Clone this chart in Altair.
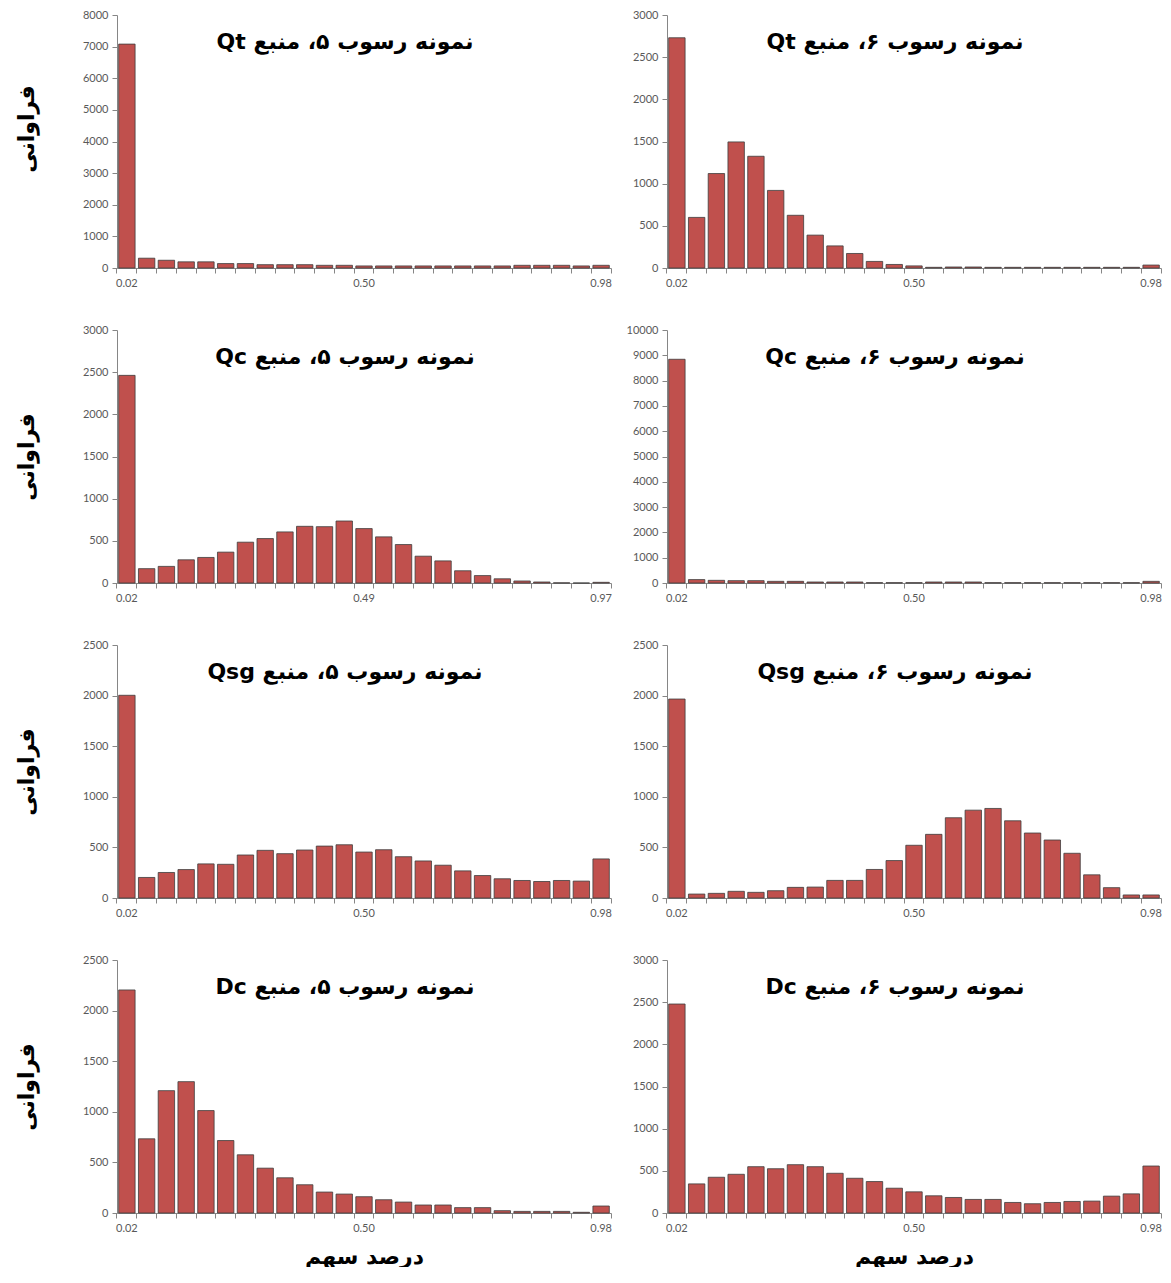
import altair as alt
import pandas as pd

# ---------------- data ----------------
bin_index = list(range(25))

qt5 = [7080, 310, 245, 195, 195, 140, 140, 105, 105, 105, 85, 85, 65, 65, 65, 65, 65, 65, 65, 65, 85, 85, 85, 65, 85]
qt6 = [2730, 600, 1120, 1495, 1325, 920, 625, 390, 262, 172, 78, 42, 25, 8, 12, 12, 8, 8, 8, 8, 8, 8, 8, 8, 35]
qc5 = [2462, 170, 197, 275, 303, 366, 484, 527, 606, 672, 668, 735, 645, 547, 456, 318, 262, 145, 88, 50, 24, 12, 2, 0, 8]
qc6 = [8843, 135, 105, 92, 92, 66, 66, 40, 40, 40, 12, 12, 12, 40, 40, 40, 12, 12, 12, 12, 12, 12, 12, 12, 66]
qsg5 = [2003, 203, 252, 281, 337, 333, 425, 471, 438, 474, 513, 526, 454, 477, 408, 366, 324, 268, 222, 190, 173, 163, 173, 167, 386]
qsg6 = [1966, 39, 46, 66, 56, 72, 105, 108, 174, 174, 282, 370, 521, 629, 793, 868, 885, 763, 642, 573, 442, 229, 102, 30, 30]
dc5 = [2204, 733, 1209, 1298, 1012, 716, 575, 443, 348, 279, 207, 187, 161, 131, 108, 79, 79, 53, 53, 23, 16, 16, 16, 7, 69]
dc6 = [2478, 345, 424, 459, 549, 525, 573, 549, 471, 412, 373, 294, 251, 204, 184, 161, 161, 125, 110, 125, 137, 141, 200, 227, 557]

labels_default = ["0.02", "0.50", "0.98"]
labels_qc5 = ["0.02", "0.49", "0.97"]
label_positions = [0, 12, 24]

titles = [
    "نمونه رسوب ۵، منبع Qt", "نمونه رسوب ۶، منبع Qt",
    "نمونه رسوب ۵، منبع Qc", "نمونه رسوب ۶، منبع Qc",
    "نمونه رسوب ۵، منبع Qsg", "نمونه رسوب ۶، منبع Qsg",
    "نمونه رسوب ۵، منبع Dc", "نمونه رسوب ۶، منبع Dc",
]
y_title = "فراوانی"
x_title = "درصد سهم"

# ---------------- style ----------------
W, H = 494, 253
FILL = "#C0504D"
STROKE = "#3d3d3d"
AXIS_COLOR = "#868686"
LABEL_COLOR = "#595959"
LABEL_FONT = "Lato"
AR_FONT = "DejaVu Sans"


def panel(values, ymax, ystep, xlabels, title, left, bottom, ytitle_shift=0):
    df = pd.DataFrame({"idx": bin_index, "count": values})
    expr = " : ".join(
        f"datum.value == {p} ? '{l}'" for p, l in zip(label_positions, xlabels)
    ) + " : ''"
    x_axis = alt.Axis(
        title=x_title if bottom else None,
        labelExpr=expr,
        labelAngle=0,
        labelOverlap=False,
        labelFont=LABEL_FONT,
        labelFontSize=11,
        labelColor=LABEL_COLOR,
        labelPadding=4,
        bandPosition=1,
        tickExtra=True,
        tickSize=5,
        tickColor=AXIS_COLOR,
        domainColor=AXIS_COLOR,
        titleFont=AR_FONT,
        titleFontSize=22,
        titleFontWeight="bold",
        titleColor="black",
        titlePadding=13,
    )
    y_kwargs = dict(
        title=y_title if left else None,
        values=list(range(0, ymax + 1, ystep)),
        format="d",
        grid=False,
        labelFont=LABEL_FONT,
        labelFontSize=11,
        labelColor=LABEL_COLOR,
        labelPadding=4,
        tickSize=5,
        tickColor=AXIS_COLOR,
        domainColor=AXIS_COLOR,
        minExtent=40,
        maxExtent=40,
        titleFont=AR_FONT,
        titleFontSize=22,
        titleFontWeight="bold",
        titleColor="black",
        titlePadding=39,
    )
    if ytitle_shift:
        y_kwargs["titleY"] = H / 2 + ytitle_shift
    y_axis = alt.Axis(**y_kwargs)
    bars = alt.Chart(df).mark_bar(
        color=FILL, stroke=STROKE, strokeWidth=0.8,
        width=alt.RelativeBandSize(0.83),
    ).encode(
        x=alt.X("idx:O", scale=alt.Scale(paddingInner=0, paddingOuter=0), axis=x_axis),
        y=alt.Y("count:Q", scale=alt.Scale(domain=[0, ymax], nice=False), axis=y_axis),
    )
    ttl = alt.Chart(pd.DataFrame({"t": ["\u202b" + title + "\u202c"]})).mark_text(
        font=AR_FONT, fontSize=22, fontWeight="bold", color="black",
        align="center", baseline="middle",
    ).encode(text="t:N", x=alt.value(W / 2 - 19), y=alt.value(27))
    return alt.layer(bars, ttl).properties(width=W, height=H)


p = [
    panel(qt5, 8000, 1000, labels_default, titles[0], True, False, ytitle_shift=-13),
    panel(qt6, 3000, 500, labels_default, titles[1], False, False),
    panel(qc5, 3000, 500, labels_qc5, titles[2], True, False),
    panel(qc6, 10000, 1000, labels_default, titles[3], False, False),
    panel(qsg5, 2500, 500, labels_default, titles[4], True, False),
    panel(qsg6, 2500, 500, labels_default, titles[5], False, False),
    panel(dc5, 2500, 500, labels_default, titles[6], True, True),
    panel(dc6, 3000, 500, labels_default, titles[7], False, True),
]

chart = alt.concat(
    *p, columns=2, spacing={"row": 62, "column": 56}, bounds="flush"
).properties(
    padding={"left": 7, "top": 1, "right": 0, "bottom": 0}
).configure_view(stroke=None)

chart.save("out.html", embed_options={"renderer": "svg", "actions": False})
